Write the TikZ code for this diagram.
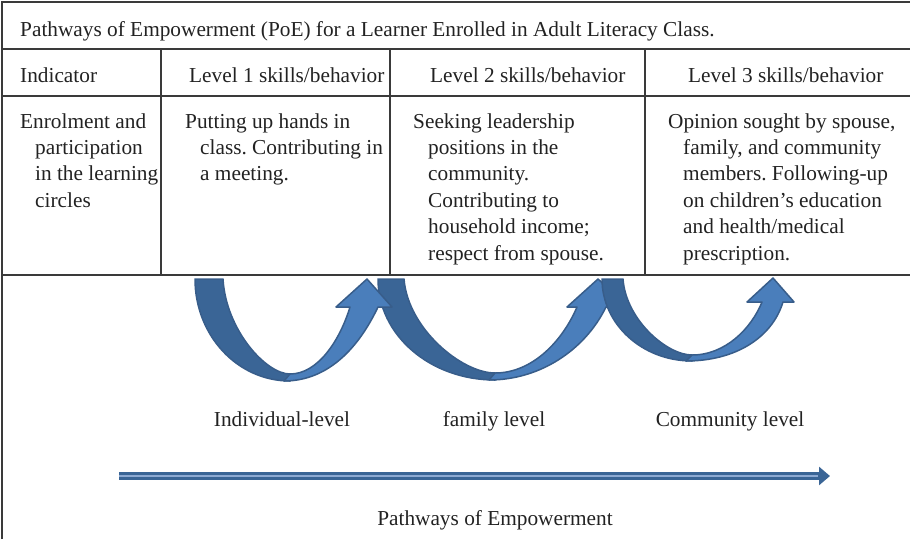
\documentclass[tikz,border=0pt]{standalone}
\usepackage{fontspec}
\setmainfont{Liberation Serif}
\usetikzlibrary{arrows.meta}
\definecolor{arrowfront}{HTML}{4A7EBB}
\definecolor{arrowback}{HTML}{3A6596}
\definecolor{arrowedge}{HTML}{385D8A}
\definecolor{pathlight}{HTML}{8DAAD3}
\definecolor{rulegray}{HTML}{3A3A3A}
\definecolor{ink}{HTML}{222222}
\frenchspacing
\newcommand{\hangline}{\\\hspace*{15pt}}

\begin{document}
\begin{tikzpicture}[x=1pt,y=-1pt,font=\fontsize{21.3}{26.4}\selectfont,text=ink,
  cell/.style={anchor=base west,inner sep=0pt,text width=260pt,align=flush left},
  front/.style={fill=arrowfront,draw=arrowedge,line width=1.5pt,line join=round},
  back/.style={fill=arrowback,draw=arrowedge,line width=1.5pt,line join=round}]
	\useasboundingbox (0,0) rectangle (910,539);

	%table rules
	\draw[rulegray,line width=1.2pt] (2,539) -- (2,2) -- (910,2); %frame
	\draw[rulegray,line width=1.2pt] (2,49) -- (910,49);
	\draw[rulegray,line width=1.2pt] (2,96) -- (910,96);
	\draw[rulegray,line width=1.2pt] (2,275) -- (910,275);
	\draw[rulegray,line width=1.2pt] (161,49) -- (161,275);
	\draw[rulegray,line width=1.2pt] (390,49) -- (390,275);
	\draw[rulegray,line width=1.2pt] (645,49) -- (645,275);

	%title row
	\node[anchor=base west,inner sep=0pt] (title) at (20,36)
	  {Pathways of Empowerment (PoE) for a Learner Enrolled in Adult Literacy Class.};

	%header row
	\node[anchor=base west,inner sep=0pt] (hindic) at (20,82) {Indicator};
	\node[anchor=base west,inner sep=0pt] (hlevone) at (189,82) {Level 1 skills/behavior};
	\node[anchor=base west,inner sep=0pt] (hlevtwo) at (430,82) {Level 2 skills/behavior};
	\node[anchor=base west,inner sep=0pt] (hlevthree) at (688,82) {Level 3 skills/behavior};

	%cells, hanging indent after the first line
	\node[cell] (indic) at (20,128)
	  {Enrolment and\hangline participation\hangline in the learning\hangline circles};
	\node[cell] (levone) at (185,128)
	  {Putting up hands in\hangline class. Contributing in\hangline a meeting.};
	\node[cell] (levtwo) at (413,128)
	  {Seeking leadership\hangline positions in the\hangline community.\hangline Contributing to\hangline household income;\hangline respect from spouse.};
	\node[cell] (levthree) at (668,128)
	  {Opinion sought by spouse,\hangline family, and community\hangline members. Following-up\hangline on children’s education\hangline and health/medical\hangline prescription.};

	%curved arrows, back halves first
	\draw[back] (195,279) .. controls (195,335) and (237,381) .. (290,381) -- (290,374)
	  .. controls (266,374) and (226,330) .. (223,279) -- cycle; %arrow 1
	\draw[back] (378,279) .. controls (378,335) and (430,380) .. (495,380) -- (495,373)
	  .. controls (462,373) and (408,329) .. (404,279) -- cycle; %arrow 2

	\draw[front] (284,381) .. controls (330,381) and (360,345) .. (378,307)
	  -- (392,307) -- (367,279) -- (336,307) -- (350,307)
	  .. controls (340,340) and (318,374) .. (290,374) -- cycle; %arrow 1 head
	\draw[front] (489,380) .. controls (540,380) and (585,350) .. (606,307)
	  -- (629,307) -- (598,279) -- (567,307) -- (577,307)
	  .. controls (563,340) and (533,373) .. (495,373) -- cycle; %arrow 2 head

	\draw[back] (602,279) .. controls (602,324) and (642,361) .. (692,361) -- (692,355)
	  .. controls (667,355) and (626,320) .. (623,279) -- cycle; %arrow 3
	\draw[front] (686,361) .. controls (735,361) and (772,338) .. (783,302)
	  -- (794,302) -- (773,278) -- (747,302) -- (762,302)
	  .. controls (751,329) and (725,355) .. (692,355) -- cycle; %arrow 3 head

	%level labels
	\node[anchor=base] (indiv) at (282,426) {Individual-level};
	\node[anchor=base] (family) at (494,426) {family level};
	\node[anchor=base] (community) at (730,426) {Community level};

	%pathway arrow
	\coordinate (pathstart) at (119,476);
	\coordinate (pathend) at (830,476);
	\draw[arrowback,line width=8pt,-{Triangle[length=11pt,width=18pt]}] (pathstart) -- (pathend);
	\draw[pathlight,line width=1.2pt] (pathstart) -- ([xshift=-12pt]pathend);
	\node[anchor=base] (pathlabel) at (495,525) {Pathways of Empowerment};

\end{tikzpicture}
\end{document}
